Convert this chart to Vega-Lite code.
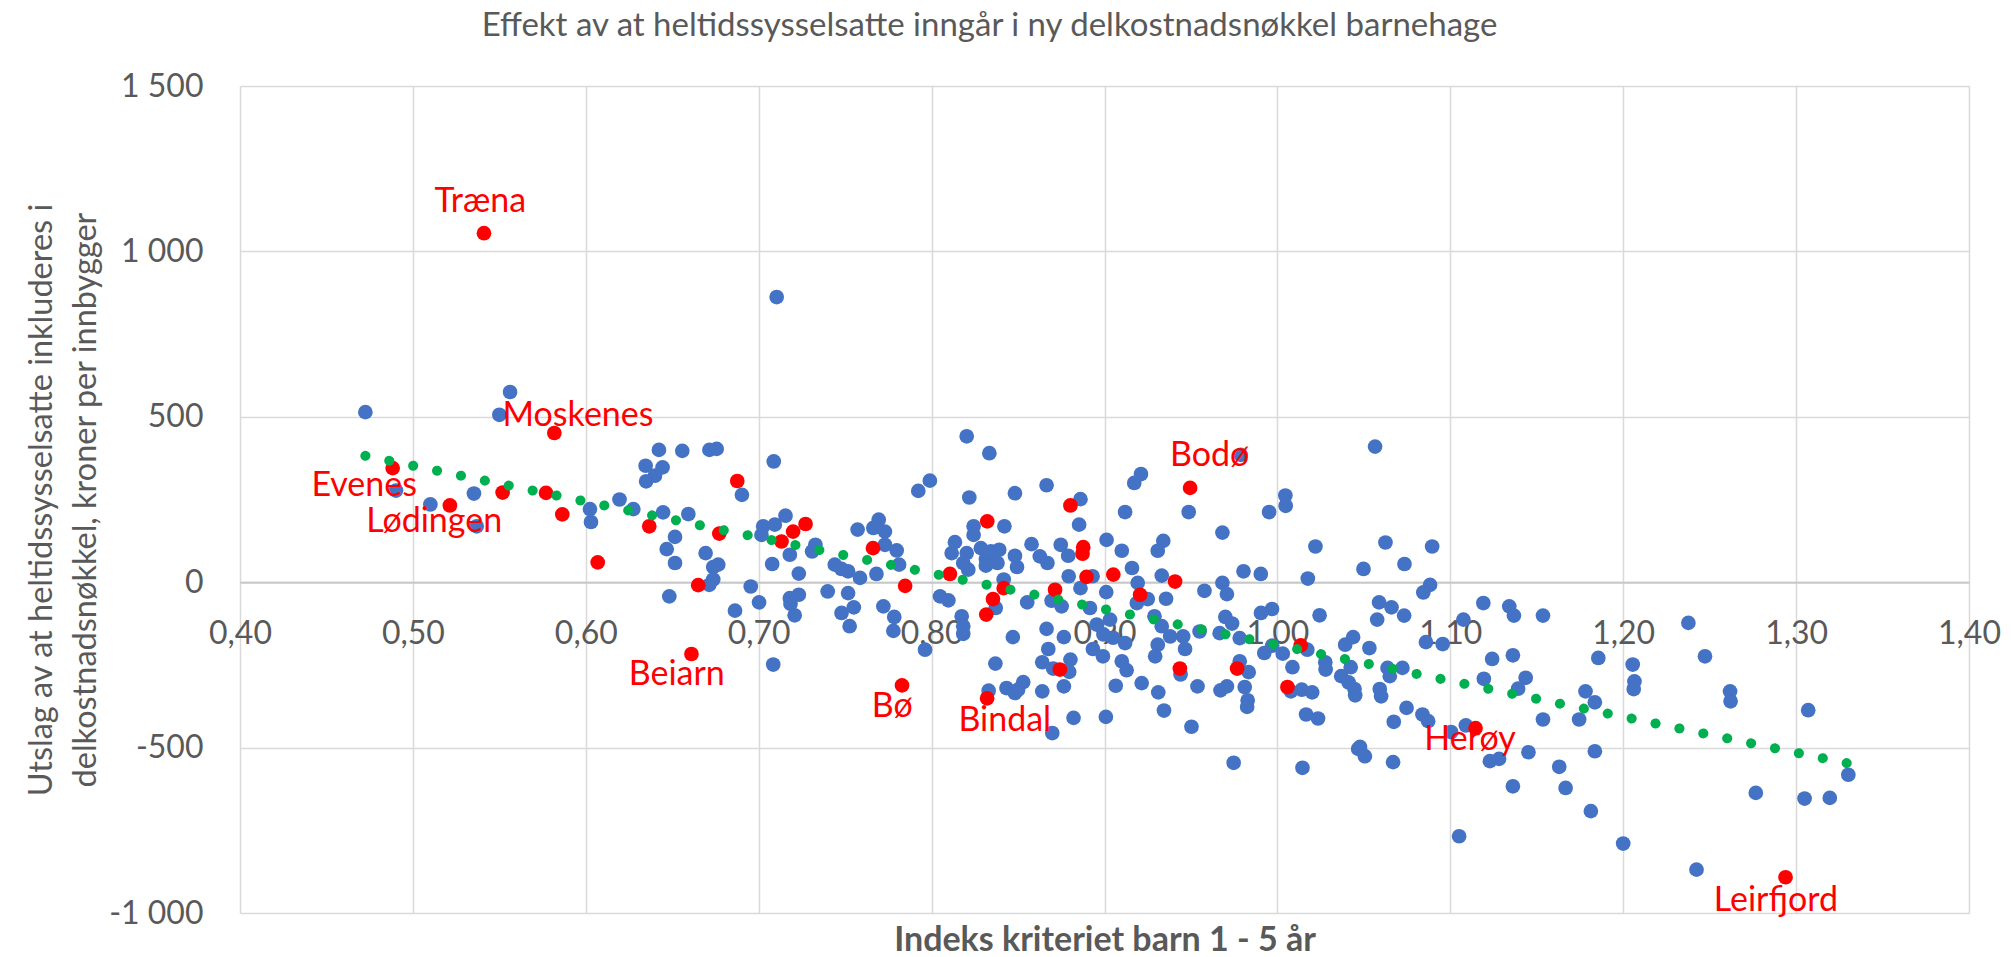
{
  "$schema": "https://vega.github.io/schema/vega-lite/v6.json",
  "width": 1729,
  "height": 827,
  "autosize": {"type": "none"},
  "padding": {"left": 240, "top": 86, "right": 42, "bottom": 44},
  "background": "white",
  "title": {"text": "Effekt av at heltidssysselsatte inngår i ny delkostnadsnøkkel barnehage", "font": "Lato", "fontSize": 33, "fontWeight": "normal", "color": "#595959", "anchor": "middle", "frame": "group", "dx": -115, "offset": 27},
  "config": {
    "view": {"stroke": null},
    "axis": {"labelFont": "Lato", "titleFont": "Lato", "labelColor": "#595959", "titleColor": "#595959", "gridColor": "#D9D9D9", "gridWidth": 1.5, "ticks": false, "labelFontSize": 32, "titleFontSize": 32.5}
  },
  "datasets": {
    "punkter": [
      {"x":0.4725,"y":514,"g":"Øvrige"},{"x":0.5562,"y":575,"g":"Øvrige"},{"x":0.5500,"y":506,"g":"Øvrige"},{"x":0.6423,"y":400,"g":"Øvrige"},{"x":0.6558,"y":397,"g":"Øvrige"},{"x":0.6346,"y":352,"g":"Øvrige"},{"x":0.6444,"y":347,"g":"Øvrige"},{"x":0.6400,"y":322,"g":"Øvrige"},{"x":0.6349,"y":305,"g":"Øvrige"},{"x":0.4902,"y":277,"g":"Øvrige"},{"x":0.5353,"y":268,"g":"Øvrige"},{"x":0.5101,"y":235,"g":"Øvrige"},{"x":0.6195,"y":250,"g":"Øvrige"},{"x":0.5369,"y":169,"g":"Øvrige"},{"x":0.6024,"y":221,"g":"Øvrige"},{"x":0.6030,"y":182,"g":"Øvrige"},{"x":0.6275,"y":221,"g":"Øvrige"},{"x":0.6447,"y":211,"g":"Øvrige"},{"x":0.6516,"y":137,"g":"Øvrige"},{"x":0.6468,"y":100,"g":"Øvrige"},{"x":0.6516,"y":58,"g":"Øvrige"},{"x":0.6483,"y":-43,"g":"Øvrige"},
      {"x":0.6903,"y":264,"g":"Øvrige"},{"x":0.6593,"y":206,"g":"Øvrige"},{"x":0.6693,"y":88,"g":"Øvrige"},{"x":0.6737,"y":46,"g":"Øvrige"},{"x":0.6766,"y":53,"g":"Øvrige"},{"x":0.6737,"y":8,"g":"Øvrige"},{"x":0.6714,"y":-8,"g":"Øvrige"},{"x":0.6954,"y":-13,"g":"Øvrige"},{"x":0.6863,"y":-86,"g":"Øvrige"},{"x":0.7002,"y":-61,"g":"Øvrige"},{"x":0.7084,"y":-249,"g":"Øvrige"},{"x":0.7026,"y":169,"g":"Øvrige"},{"x":0.7016,"y":143,"g":"Øvrige"},{"x":0.7093,"y":174,"g":"Øvrige"},{"x":0.7155,"y":201,"g":"Øvrige"},{"x":0.7180,"y":83,"g":"Øvrige"},{"x":0.7078,"y":55,"g":"Øvrige"},{"x":0.7232,"y":26,"g":"Øvrige"},{"x":0.7180,"y":-48,"g":"Øvrige"},{"x":0.7232,"y":-38,"g":"Øvrige"},{"x":0.7184,"y":-65,"g":"Øvrige"},{"x":0.7208,"y":-100,"g":"Øvrige"},{"x":0.7328,"y":113,"g":"Øvrige"},{"x":0.7309,"y":93,"g":"Øvrige"},{"x":0.7399,"y":-28,"g":"Øvrige"},{"x":0.7440,"y":53,"g":"Øvrige"},{"x":0.7479,"y":40,"g":"Øvrige"},{"x":0.7517,"y":33,"g":"Øvrige"},{"x":0.7517,"y":-33,"g":"Øvrige"},{"x":0.7550,"y":-76,"g":"Øvrige"},{"x":0.7479,"y":-93,"g":"Øvrige"},{"x":0.7526,"y":-133,"g":"Øvrige"},{"x":0.7586,"y":13,"g":"Øvrige"},{"x":0.7572,"y":159,"g":"Øvrige"},{"x":0.7663,"y":164,"g":"Øvrige"},{"x":0.7694,"y":189,"g":"Øvrige"},{"x":0.7730,"y":153,"g":"Øvrige"},{"x":0.7730,"y":113,"g":"Øvrige"},{"x":0.7798,"y":96,"g":"Øvrige"},{"x":0.7681,"y":25,"g":"Øvrige"},{"x":0.7812,"y":53,"g":"Øvrige"},{"x":0.7721,"y":-73,"g":"Øvrige"},{"x":0.7784,"y":-105,"g":"Øvrige"},{"x":0.7779,"y":-147,"g":"Øvrige"},{"x":0.7923,"y":276,"g":"Øvrige"},{"x":0.7990,"y":307,"g":"Øvrige"},{"x":0.7962,"y":-204,"g":"Øvrige"},{"x":0.8049,"y":-43,"g":"Øvrige"},{"x":0.8097,"y":-55,"g":"Øvrige"},{"x":0.8218,"y":256,"g":"Øvrige"},{"x":0.8482,"y":269,"g":"Øvrige"},{"x":0.8665,"y":293,"g":"Øvrige"},{"x":0.8861,"y":251,"g":"Øvrige"},{"x":0.8421,"y":169,"g":"Øvrige"},{"x":0.8243,"y":169,"g":"Øvrige"},{"x":0.8243,"y":143,"g":"Øvrige"},{"x":0.8853,"y":174,"g":"Øvrige"},{"x":0.8135,"y":121,"g":"Øvrige"},{"x":0.8116,"y":88,"g":"Øvrige"},{"x":0.8203,"y":88,"g":"Øvrige"},{"x":0.8183,"y":58,"g":"Øvrige"},{"x":0.8212,"y":38,"g":"Øvrige"},{"x":0.8285,"y":103,"g":"Øvrige"},{"x":0.8314,"y":70,"g":"Øvrige"},{"x":0.8343,"y":93,"g":"Øvrige"},{"x":0.8391,"y":98,"g":"Øvrige"},{"x":0.8381,"y":58,"g":"Øvrige"},{"x":0.8482,"y":80,"g":"Øvrige"},{"x":0.8494,"y":46,"g":"Øvrige"},{"x":0.8314,"y":50,"g":"Øvrige"},{"x":0.8578,"y":115,"g":"Øvrige"},{"x":0.8626,"y":78,"g":"Øvrige"},{"x":0.8670,"y":58,"g":"Øvrige"},{"x":0.8747,"y":113,"g":"Øvrige"},{"x":0.8790,"y":80,"g":"Øvrige"},{"x":0.8793,"y":18,"g":"Øvrige"},{"x":0.9012,"y":128,"g":"Øvrige"},{"x":0.8861,"y":-18,"g":"Øvrige"},{"x":0.8417,"y":8,"g":"Øvrige"},{"x":0.8371,"y":-78,"g":"Øvrige"},{"x":0.8174,"y":-103,"g":"Øvrige"},{"x":0.8183,"y":-133,"g":"Øvrige"},{"x":0.8183,"y":-156,"g":"Øvrige"},{"x":0.8694,"y":-56,"g":"Øvrige"},{"x":0.8752,"y":-73,"g":"Øvrige"},{"x":0.8553,"y":-61,"g":"Øvrige"},{"x":0.8665,"y":-141,"g":"Øvrige"},{"x":0.8765,"y":-166,"g":"Øvrige"},{"x":0.8470,"y":-166,"g":"Øvrige"},{"x":0.8675,"y":-202,"g":"Øvrige"},{"x":0.8640,"y":-242,"g":"Øvrige"},{"x":0.8803,"y":-234,"g":"Øvrige"},{"x":0.8796,"y":-271,"g":"Øvrige"},{"x":0.8703,"y":-261,"g":"Øvrige"},{"x":0.8765,"y":-315,"g":"Øvrige"},{"x":0.8369,"y":-246,"g":"Øvrige"},{"x":0.8330,"y":-328,"g":"Øvrige"},{"x":0.8433,"y":-320,"g":"Øvrige"},{"x":0.8482,"y":-335,"g":"Øvrige"},{"x":0.8530,"y":-302,"g":"Øvrige"},{"x":0.8500,"y":-325,"g":"Øvrige"},{"x":0.8640,"y":-330,"g":"Øvrige"},{"x":0.8821,"y":-410,"g":"Øvrige"},{"x":0.8698,"y":-456,"g":"Øvrige"},{"x":0.9008,"y":-407,"g":"Øvrige"},{"x":0.8933,"y":-202,"g":"Øvrige"},{"x":0.8991,"y":-224,"g":"Øvrige"},{"x":0.9010,"y":-30,"g":"Øvrige"},
      {"x":0.7104,"y":862,"g":"Øvrige"},{"x":0.6715,"y":400,"g":"Øvrige"},{"x":0.6757,"y":403,"g":"Øvrige"},{"x":0.7087,"y":365,"g":"Øvrige"},{"x":0.8203,"y":441,"g":"Øvrige"},{"x":0.8334,"y":390,"g":"Øvrige"},{"x":0.9211,"y":327,"g":"Øvrige"},{"x":0.9172,"y":300,"g":"Øvrige"},{"x":0.9788,"y":385,"g":"Øvrige"},{"x":1.0565,"y":410,"g":"Øvrige"},{"x":1.0046,"y":262,"g":"Øvrige"},
      {"x":1.0048,"y":231,"g":"Øvrige"},{"x":0.9952,"y":212,"g":"Øvrige"},{"x":0.9119,"y":212,"g":"Øvrige"},{"x":0.9487,"y":212,"g":"Øvrige"},{"x":0.9682,"y":150,"g":"Øvrige"},{"x":0.9100,"y":95,"g":"Øvrige"},{"x":0.9340,"y":125,"g":"Øvrige"},{"x":0.9308,"y":95,"g":"Øvrige"},{"x":0.9159,"y":43,"g":"Øvrige"},{"x":0.9192,"y":-2,"g":"Øvrige"},{"x":0.9331,"y":20,"g":"Øvrige"},{"x":0.9187,"y":-63,"g":"Øvrige"},{"x":0.9250,"y":-51,"g":"Øvrige"},{"x":0.9356,"y":-50,"g":"Øvrige"},{"x":0.8916,"y":-78,"g":"Øvrige"},{"x":0.8931,"y":18,"g":"Øvrige"},{"x":0.9578,"y":-26,"g":"Øvrige"},{"x":0.9682,"y":-2,"g":"Øvrige"},{"x":0.9708,"y":-36,"g":"Øvrige"},{"x":0.9804,"y":33,"g":"Øvrige"},{"x":0.9904,"y":25,"g":"Øvrige"},{"x":1.0176,"y":11,"g":"Øvrige"},{"x":1.0220,"y":108,"g":"Øvrige"},{"x":1.0625,"y":120,"g":"Øvrige"},{"x":1.0895,"y":108,"g":"Øvrige"},{"x":1.0735,"y":55,"g":"Øvrige"},{"x":1.0498,"y":40,"g":"Øvrige"},{"x":1.0883,"y":-8,"g":"Øvrige"},{"x":1.0844,"y":-31,"g":"Øvrige"},{"x":1.1191,"y":-63,"g":"Øvrige"},{"x":1.1341,"y":-73,"g":"Øvrige"},{"x":1.1368,"y":-101,"g":"Øvrige"},{"x":1.1536,"y":-101,"g":"Øvrige"},{"x":1.0588,"y":-61,"g":"Øvrige"},{"x":1.0660,"y":-76,"g":"Øvrige"},{"x":1.0577,"y":-113,"g":"Øvrige"},{"x":1.0733,"y":-101,"g":"Øvrige"},{"x":1.1076,"y":-113,"g":"Øvrige"},{"x":1.0244,"y":-100,"g":"Øvrige"},{"x":0.9969,"y":-81,"g":"Øvrige"},{"x":0.9905,"y":-93,"g":"Øvrige"},{"x":0.9699,"y":-105,"g":"Øvrige"},{"x":0.9738,"y":-125,"g":"Øvrige"},{"x":0.9550,"y":-149,"g":"Øvrige"},{"x":0.9666,"y":-154,"g":"Øvrige"},{"x":0.9782,"y":-169,"g":"Øvrige"},{"x":0.9289,"y":-103,"g":"Øvrige"},{"x":0.9331,"y":-133,"g":"Øvrige"},{"x":0.9380,"y":-164,"g":"Øvrige"},{"x":0.9455,"y":-164,"g":"Øvrige"},{"x":0.9032,"y":-113,"g":"Øvrige"},{"x":0.9119,"y":-184,"g":"Øvrige"},{"x":0.8955,"y":-128,"g":"Øvrige"},{"x":0.8994,"y":-158,"g":"Øvrige"},{"x":0.9050,"y":-168,"g":"Øvrige"},{"x":0.9308,"y":-189,"g":"Øvrige"},{"x":0.9293,"y":-224,"g":"Øvrige"},{"x":0.9466,"y":-202,"g":"Øvrige"},{"x":0.9100,"y":-239,"g":"Øvrige"},{"x":0.9128,"y":-266,"g":"Øvrige"},{"x":0.9440,"y":-279,"g":"Øvrige"},{"x":0.9065,"y":-313,"g":"Øvrige"},{"x":0.9215,"y":-305,"g":"Øvrige"},{"x":0.9311,"y":-333,"g":"Øvrige"},{"x":0.9344,"y":-388,"g":"Øvrige"},{"x":0.9538,"y":-315,"g":"Øvrige"},{"x":0.9503,"y":-437,"g":"Øvrige"},{"x":0.9782,"y":-239,"g":"Øvrige"},{"x":0.9834,"y":-272,"g":"Øvrige"},{"x":0.9811,"y":-317,"g":"Øvrige"},{"x":0.9828,"y":-357,"g":"Øvrige"},{"x":0.9825,"y":-377,"g":"Øvrige"},{"x":0.9671,"y":-327,"g":"Øvrige"},{"x":0.9708,"y":-315,"g":"Øvrige"},{"x":0.9747,"y":-546,"g":"Øvrige"},{"x":0.9924,"y":-214,"g":"Øvrige"},{"x":0.9970,"y":-192,"g":"Øvrige"},{"x":1.0031,"y":-216,"g":"Øvrige"},{"x":1.0173,"y":-204,"g":"Øvrige"},{"x":1.0087,"y":-257,"g":"Øvrige"},{"x":1.0078,"y":-330,"g":"Øvrige"},{"x":1.0141,"y":-325,"g":"Øvrige"},{"x":1.0201,"y":-333,"g":"Øvrige"},{"x":1.0166,"y":-400,"g":"Øvrige"},{"x":1.0235,"y":-412,"g":"Øvrige"},{"x":1.0145,"y":-561,"g":"Øvrige"},{"x":1.0277,"y":-242,"g":"Øvrige"},{"x":1.0279,"y":-264,"g":"Øvrige"},{"x":1.0369,"y":-284,"g":"Øvrige"},{"x":1.0412,"y":-303,"g":"Øvrige"},{"x":1.0446,"y":-323,"g":"Øvrige"},{"x":1.0450,"y":-342,"g":"Øvrige"},{"x":1.0392,"y":-189,"g":"Øvrige"},{"x":1.0438,"y":-166,"g":"Øvrige"},{"x":1.0424,"y":-257,"g":"Øvrige"},{"x":1.0532,"y":-199,"g":"Øvrige"},{"x":1.0467,"y":-504,"g":"Øvrige"},{"x":1.0478,"y":-498,"g":"Øvrige"},{"x":1.0506,"y":-526,"g":"Øvrige"},{"x":1.0592,"y":-323,"g":"Øvrige"},{"x":1.0600,"y":-345,"g":"Øvrige"},{"x":1.0637,"y":-259,"g":"Øvrige"},{"x":1.0650,"y":-284,"g":"Øvrige"},{"x":1.0723,"y":-259,"g":"Øvrige"},{"x":1.0673,"y":-422,"g":"Øvrige"},{"x":1.0747,"y":-380,"g":"Øvrige"},{"x":1.0839,"y":-400,"g":"Øvrige"},{"x":1.0872,"y":-420,"g":"Øvrige"},{"x":1.0669,"y":-544,"g":"Øvrige"},{"x":1.1005,"y":-453,"g":"Øvrige"},{"x":1.1090,"y":-433,"g":"Øvrige"},{"x":1.1051,"y":-768,"g":"Øvrige"},{"x":1.0859,"y":-181,"g":"Øvrige"},{"x":1.0956,"y":-187,"g":"Øvrige"},{"x":1.1242,"y":-232,"g":"Øvrige"},{"x":1.1362,"y":-221,"g":"Øvrige"},{"x":1.1194,"y":-292,"g":"Øvrige"},{"x":1.1436,"y":-289,"g":"Øvrige"},{"x":1.1392,"y":-322,"g":"Øvrige"},{"x":1.1536,"y":-415,"g":"Øvrige"},{"x":1.1229,"y":-541,"g":"Øvrige"},{"x":1.1282,"y":-534,"g":"Øvrige"},{"x":1.1452,"y":-514,"g":"Øvrige"},{"x":1.1362,"y":-617,"g":"Øvrige"},
      {"x":1.2377,"y":-123,"g":"Øvrige"},{"x":1.1856,"y":-229,"g":"Øvrige"},{"x":1.2055,"y":-249,"g":"Øvrige"},{"x":1.2065,"y":-300,"g":"Øvrige"},{"x":1.2061,"y":-323,"g":"Øvrige"},{"x":1.2473,"y":-224,"g":"Øvrige"},{"x":1.1782,"y":-330,"g":"Øvrige"},{"x":1.1836,"y":-363,"g":"Øvrige"},{"x":1.1745,"y":-415,"g":"Øvrige"},{"x":1.2618,"y":-330,"g":"Øvrige"},{"x":1.2621,"y":-360,"g":"Øvrige"},{"x":1.3070,"y":-387,"g":"Øvrige"},{"x":1.1836,"y":-511,"g":"Øvrige"},{"x":1.1630,"y":-558,"g":"Øvrige"},{"x":1.1667,"y":-622,"g":"Øvrige"},{"x":1.1813,"y":-692,"g":"Øvrige"},{"x":1.2000,"y":-790,"g":"Øvrige"},{"x":1.2424,"y":-869,"g":"Øvrige"},{"x":1.2767,"y":-637,"g":"Øvrige"},{"x":1.3049,"y":-654,"g":"Øvrige"},{"x":1.3195,"y":-652,"g":"Øvrige"},{"x":1.3302,"y":-582,"g":"Øvrige"},
      {"x":0.5411,"y":1055,"g":"Nordland"},{"x":0.5818,"y":451,"g":"Nordland"},{"x":0.4883,"y":345,"g":"Nordland"},{"x":0.5214,"y":232,"g":"Nordland"},{"x":0.5519,"y":271,"g":"Nordland"},{"x":0.5770,"y":270,"g":"Nordland"},{"x":0.5864,"y":205,"g":"Nordland"},{"x":0.6069,"y":60,"g":"Nordland"},{"x":0.6367,"y":169,"g":"Nordland"},{"x":0.6876,"y":306,"g":"Nordland"},{"x":0.6772,"y":147,"g":"Nordland"},{"x":0.6650,"y":-9,"g":"Nordland"},{"x":0.6611,"y":-217,"g":"Nordland"},{"x":0.7132,"y":123,"g":"Nordland"},{"x":0.7199,"y":153,"g":"Nordland"},{"x":0.7271,"y":176,"g":"Nordland"},{"x":0.7661,"y":103,"g":"Nordland"},{"x":0.7847,"y":-11,"g":"Nordland"},{"x":0.7829,"y":-312,"g":"Nordland"},{"x":0.8106,"y":25,"g":"Nordland"},{"x":0.8322,"y":184,"g":"Nordland"},{"x":0.8803,"y":232,"g":"Nordland"},{"x":0.8877,"y":106,"g":"Nordland"},{"x":0.8873,"y":86,"g":"Nordland"},{"x":0.8896,"y":16,"g":"Nordland"},{"x":0.8417,"y":-18,"g":"Nordland"},{"x":0.8355,"y":-51,"g":"Nordland"},{"x":0.8316,"y":-98,"g":"Nordland"},{"x":0.8714,"y":-23,"g":"Nordland"},{"x":0.8742,"y":-264,"g":"Nordland"},{"x":0.8321,"y":-351,"g":"Nordland"},{"x":0.9495,"y":285,"g":"Nordland"},{"x":0.9051,"y":23,"g":"Nordland"},{"x":0.9408,"y":2,"g":"Nordland"},{"x":0.9206,"y":-38,"g":"Nordland"},{"x":0.9436,"y":-261,"g":"Nordland"},{"x":0.9767,"y":-261,"g":"Nordland"},{"x":1.0135,"y":-191,"g":"Nordland"},{"x":1.0058,"y":-317,"g":"Nordland"},{"x":1.1146,"y":-441,"g":"Nordland"},{"x":1.2939,"y":-892,"g":"Nordland"}
    ],
    "trend": [
      {"x": 0.4725, "y": 382},
      {"x": 1.3302, "y": -548}
    ],
    "etiketter": [
      {"x":0.5390,"y":1150,"navn":"Træna"},
      {"x":0.5955,"y":502,"navn":"Moskenes"},
      {"x":0.4718,"y":291,"navn":"Evenes"},
      {"x":0.5123,"y":183,"navn":"Lødingen"},
      {"x":0.6526,"y":-282,"navn":"Beiarn"},
      {"x":0.7773,"y":-378,"navn":"Bø"},
      {"x":0.8423,"y":-419,"navn":"Bindal"},
      {"x":0.9608,"y":381,"navn":"Bodø"},
      {"x":1.1114,"y":-478,"navn":"Herøy"},
      {"x":1.2883,"y":-965,"navn":"Leirfjord"}
    ]
  },
  "layer": [
    {
      "data": {"name": "punkter"},
      "mark": {"type": "circle", "size": 216, "opacity": 1},
      "encoding": {
        "x": {"field": "x", "type": "quantitative", "scale": {"domain": [0.4, 1.4], "nice": false, "zero": false},
          "axis": {"title": "Indeks kriteriet barn 1 - 5 år", "titleFontWeight": "bold", "titleFontSize": 34, "values": [0.4,0.5,0.6,0.7,0.8,0.9,1.0,1.1,1.2,1.3,1.4], "labelExpr": "replace(format(datum.value, '.2f'), '.', ',')", "offset": -330.8, "domain": true, "domainColor": "#C8C8C8", "domainWidth": 2, "labelPadding": 36, "labelBaseline": "top", "labelFlush": false, "labelOverlap": false, "titleY": 358, "titleBaseline": "middle"}},
        "y": {"field": "y", "type": "quantitative", "scale": {"domain": [-1000, 1500], "nice": false, "zero": false},
          "axis": {"title": ["Utslag av at heltidssysselsatte inkluderes i", "delkostnadsnøkkel, kroner per innbygger"], "titleFontWeight": "normal", "values": [-1000,-500,0,500,1000,1500], "labelExpr": "replace(replace(format(datum.value, ',.0f'), ',', ' '), '−', '-')", "domain": false, "labelPadding": 37, "labelFlush": false, "labelOverlap": false, "titleX": -199, "titleBaseline": "middle", "titleLineHeight": 44}},
        "color": {"field": "g", "type": "nominal", "scale": {"domain": ["Øvrige", "Nordland"], "range": ["#4472C4", "#FF0000"]}, "legend": null}
      }
    },
    {
      "data": {"name": "trend"},
      "mark": {"type": "line", "color": "#00B050", "strokeWidth": 10, "strokeDash": [0.1, 24.3], "strokeCap": "round"},
      "encoding": {
        "x": {"field": "x", "type": "quantitative"},
        "y": {"field": "y", "type": "quantitative"}
      }
    },
    {
      "data": {"name": "etiketter"},
      "mark": {"type": "text", "color": "#FF0000", "font": "Lato", "fontSize": 34, "baseline": "middle", "align": "center"},
      "encoding": {
        "x": {"field": "x", "type": "quantitative"},
        "y": {"field": "y", "type": "quantitative"},
        "text": {"field": "navn"}
      }
    }
  ]
}
